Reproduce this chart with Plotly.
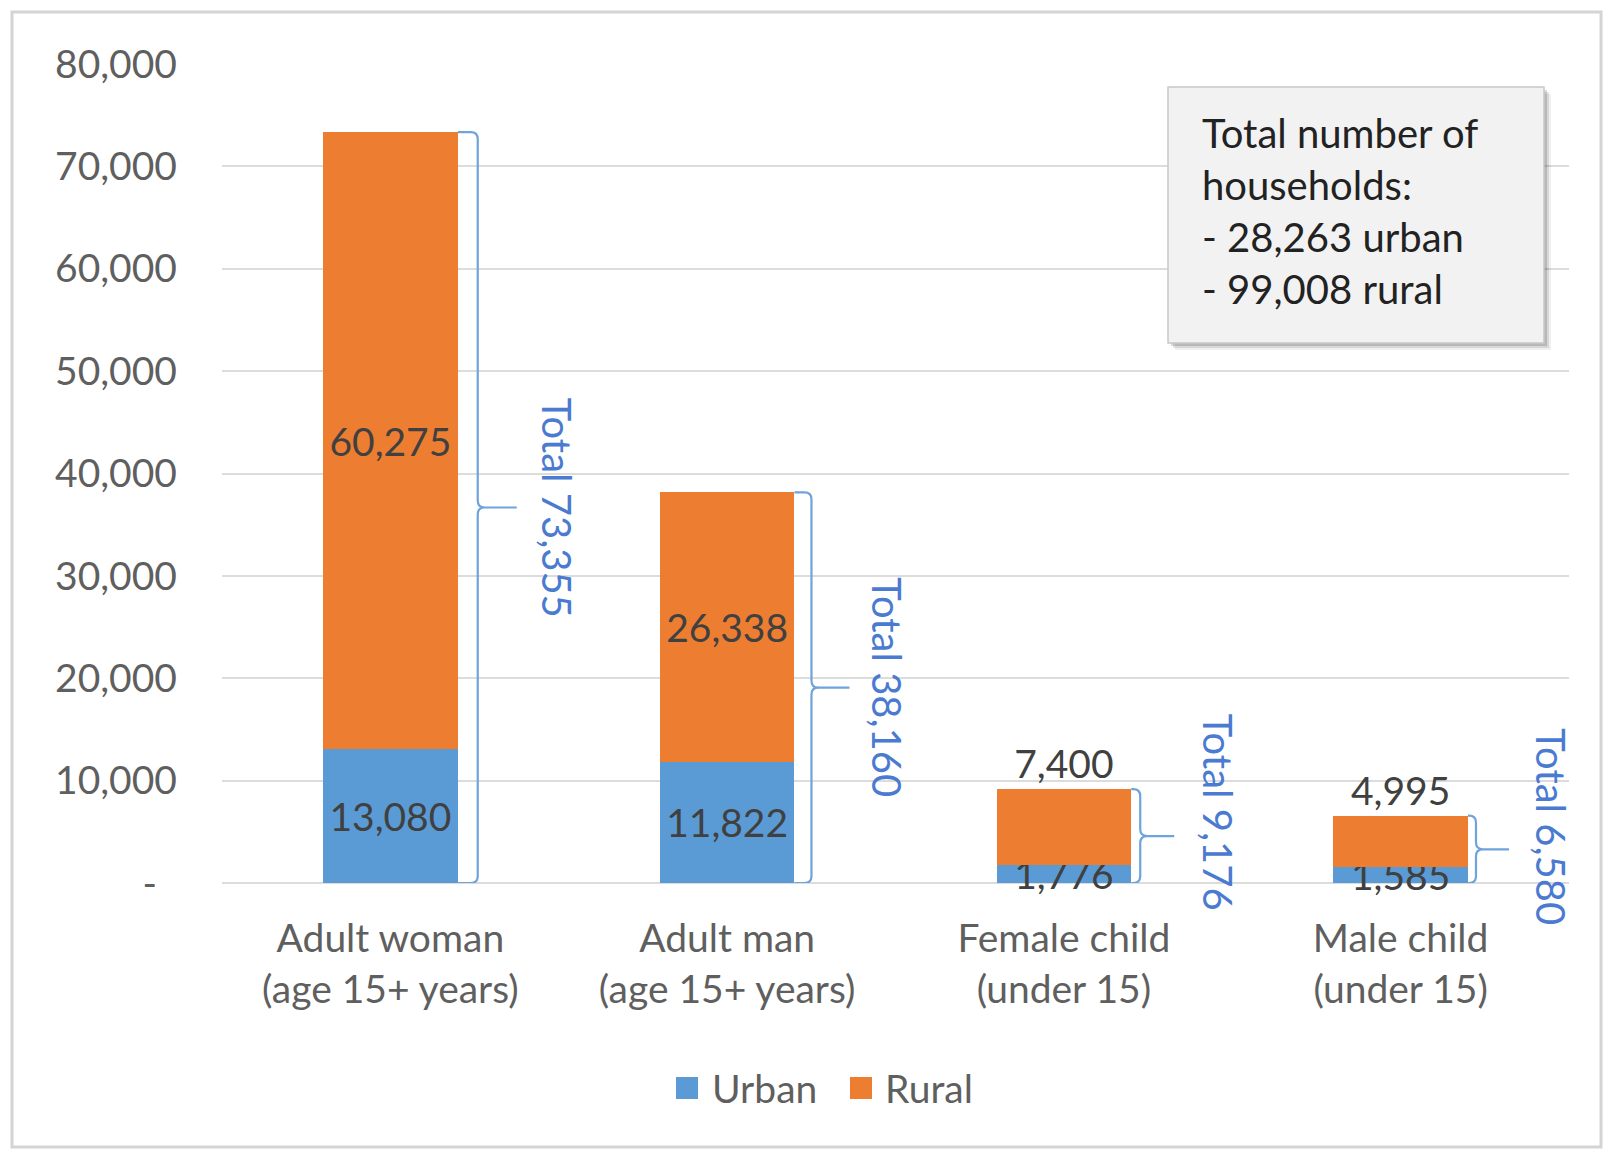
import plotly.graph_objects as go

# ---- data ----
categories = [
    "Adult woman<br>(age 15+ years)",
    "Adult man<br>(age 15+ years)",
    "Female child<br>(under 15)",
    "Male child<br>(under 15)",
]
urban = [13080, 11822, 1776, 1585]
rural = [60275, 26338, 7400, 4995]
y_ticks = [0, 10000, 20000, 30000, 40000, 50000, 60000, 70000, 80000]
y_tick_labels = ["-\u00a0\u00a0", "10,000", "20,000", "30,000", "40,000",
                 "50,000", "60,000", "70,000", "80,000"]
households_note = ["Total number of", "households:", "- 28,263 urban", "- 99,008 rural"]

# ---- styling ----
FONT = "Lato"
BLUE = "#5B9BD5"
ORANGE = "#ED7D31"
BRACE_BLUE = "#6FA3DC"
TOTAL_BLUE = "#4A7BD0"
LABEL_GRAY = "#5f5f5f"
DATA_GRAY = "#404040"
BAR_W = 0.4

# page geometry (pixels)
W_PAGE, H_PAGE = 1606, 1151
M_L, M_R, M_T, M_B = 222, 37, 64, 268
PLOT_W = W_PAGE - M_L - M_R
PLOT_H = H_PAGE - M_T - M_B
Y_MAX = 80000
UNITS_PER_PX = Y_MAX / PLOT_H


def px(X):
    return (X - M_L) / PLOT_W


def py(Y):
    return (M_T + PLOT_H - Y) / PLOT_H


x_pos = list(range(len(categories)))
totals = [u + r for u, r in zip(urban, rural)]

fig = go.Figure()
fig.add_trace(go.Bar(
    x=x_pos, y=urban, name="Urban", width=BAR_W,
    marker=dict(color=BLUE, line=dict(width=0)),
    text=[f"{v:,}" for v in urban], texttemplate="%{text}",
    textposition="inside", insidetextanchor="middle", textangle=0,
    constraintext="none", cliponaxis=False,
    insidetextfont=dict(family=FONT, size=39, color=DATA_GRAY),
    showlegend=False, hoverinfo="skip",
))
fig.add_trace(go.Bar(
    x=x_pos, y=rural, name="Rural", width=BAR_W,
    marker=dict(color=ORANGE, line=dict(width=0)),
    text=[f"{v:,}" for v in rural], texttemplate="%{text}",
    textposition=["inside", "inside", "outside", "outside"],
    insidetextanchor="middle", textangle=0,
    constraintext="none", cliponaxis=False,
    insidetextfont=dict(family=FONT, size=39, color=DATA_GRAY),
    outsidetextfont=dict(family=FONT, size=39, color=DATA_GRAY),
    showlegend=False, hoverinfo="skip",
))

shapes = []
annotations = []

# curly braces to the right of each bar, with the total written alongside
brace_vert = [20, 17, 9, 8]      # px from bar edge to the brace spine
brace_tip = [59, 55, 43, 41]     # px from bar edge to the brace tip
text_off = [100, 93, 87, 83]     # px from bar edge to the total label
text_lift = [0, 0, 24, 22]
for i, T in enumerate(totals):
    xv = brace_vert[i]
    xt = brace_tip[i]
    r = min(7, xv - 1)
    ry = r * UNITS_PER_PX
    M = T / 2
    path = (
        f"M 0,{T} L {xv - r},{T} Q {xv},{T} {xv},{T - ry} "
        f"L {xv},{M + ry} Q {xv},{M} {xv + r},{M} L {xt},{M} "
        f"M {xv + r},{M} Q {xv},{M} {xv},{M - ry} "
        f"L {xv},{ry} Q {xv},0 {xv - r},0 L 0,0"
    )
    shapes.append(dict(
        type="path", xref="x", yref="y", xsizemode="pixel",
        xanchor=x_pos[i] + BAR_W / 2, path=path,
        line=dict(color=BRACE_BLUE, width=2.2), layer="above",
    ))
    annotations.append(dict(
        x=x_pos[i] + BAR_W / 2, y=M, xref="x", yref="y",
        xshift=text_off[i], yshift=text_lift[i],
        text=f"Total {T:,}", textangle=90, showarrow=False,
        font=dict(family=FONT, size=40, color=TOTAL_BLUE),
        xanchor="center", yanchor="middle",
    ))

# outer chart frame
shapes.append(dict(
    type="rect", xref="paper", yref="paper",
    x0=px(12), x1=px(1601), y0=py(1147), y1=py(12),
    line=dict(color="#d4d4d4", width=3), fillcolor="rgba(0,0,0,0)", layer="below",
))

# households text box with drop shadow
bx0, bx1, by0, by1 = 1168, 1544, 87, 343
for off, alpha in [(7, 0.06), (5, 0.10), (3, 0.14)]:
    shapes.append(dict(
        type="rect", xref="paper", yref="paper",
        x0=px(bx0 + off), x1=px(bx1 + off), y0=py(by1 + off), y1=py(by0 + off),
        line=dict(width=0), fillcolor=f"rgba(0,0,0,{alpha})", layer="above",
    ))
shapes.append(dict(
    type="rect", xref="paper", yref="paper",
    x0=px(bx0), x1=px(bx1), y0=py(by1), y1=py(by0),
    line=dict(color="#c8c8c8", width=1.5), fillcolor="#f2f2f2", layer="above",
))
annotations.append(dict(
    x=px(1200), y=py(210.5), xref="paper", yref="paper",
    text="<br>".join(households_note), align="left", showarrow=False,
    xanchor="left", yanchor="middle",
    font=dict(family=FONT, size=40, color="#222222"),
))

# legend
legend_items = [("Urban", BLUE, 676, 710), ("Rural", ORANGE, 850, 883)]
for name, color, sq_x, txt_x in legend_items:
    shapes.append(dict(
        type="rect", xref="paper", yref="paper",
        x0=px(sq_x), x1=px(sq_x + 22), y0=py(1099), y1=py(1077),
        line=dict(width=0), fillcolor=color,
    ))
    annotations.append(dict(
        x=px(txt_x), y=py(1088), xref="paper", yref="paper",
        text=name, showarrow=False, xanchor="left", yanchor="middle",
        font=dict(family=FONT, size=39, color=LABEL_GRAY),
    ))

fig.update_layout(
    barmode="stack",
    width=W_PAGE, height=H_PAGE,
    margin=dict(l=M_L, r=M_R, t=M_T, b=M_B, pad=0),
    paper_bgcolor="white", plot_bgcolor="white",
    font=dict(family=FONT, size=39, color=LABEL_GRAY),
    showlegend=False,
    shapes=shapes,
    annotations=annotations,
    xaxis=dict(
        range=[-0.5, len(categories) - 0.5],
        tickvals=x_pos, ticktext=categories,
        showgrid=False, zeroline=False, showline=False, ticks="",
        ticklabelstandoff=29,
        tickfont=dict(family=FONT, size=39, color=LABEL_GRAY),
    ),
    yaxis=dict(
        range=[0, Y_MAX],
        tickvals=y_ticks, ticktext=y_tick_labels,
        showgrid=True, gridcolor="#dcdcdc", gridwidth=2,
        zeroline=True, zerolinecolor="#dcdcdc", zerolinewidth=2,
        showline=False, ticks="",
        ticklabelstandoff=44,
        tickfont=dict(family=FONT, size=39, color=LABEL_GRAY),
    ),
)

fig.write_html("out.html")
